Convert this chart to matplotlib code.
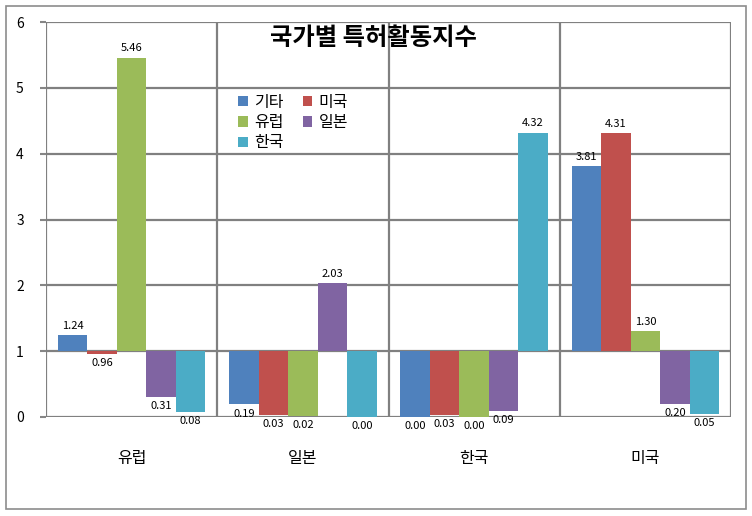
import numpy as np
import matplotlib.pyplot as plt
from matplotlib.patches import Rectangle

plt.rcParams['font.family'] = ['Noto Sans CJK KR', 'DejaVu Sans']

categories = ['유럽', '일본', '한국', '미국']
series_names = ['기타', '미국', '유럽', '일본', '한국']
colors = ['#4F81BD', '#C0504D', '#9BBB59', '#8064A2', '#4BACC6']

gita = [1.24, 0.19, 0.00, 3.81]
usa = [0.96, 0.03, 0.03, 4.31]
europe = [5.46, 0.02, 0.00, 1.30]
japan = [0.31, 2.03, 0.09, 0.20]
korea = [0.08, 0.00, 4.32, 0.05]
values = [gita, usa, europe, japan, korea]

baseline = 1.0
width = 0.172

fig = plt.figure(figsize=(7.52, 5.16), dpi=100)
ax = fig.add_axes([46 / 752, 99 / 516, 685 / 752, 395 / 516])

# outer chart frame
fig.patches.append(Rectangle((6 / 752, 7 / 516), 740 / 752, 503 / 516, transform=fig.transFigure,
                             fill=False, edgecolor='#8c8c8c', linewidth=1.2))

x = np.arange(len(categories))
bars = {}
for j, (name, vals, c) in enumerate(zip(series_names, values, colors)):
    heights = np.array(vals) - baseline
    b = ax.bar(x + (j - 2) * width, heights, width, bottom=baseline, color=c, label=name, zorder=3)
    ax.bar_label(b, labels=[f'{v:.2f}' for v in vals], padding=3, fontsize=8, zorder=4)
    bars[name] = b

ax.set_xlim(-0.5, 3.5)
ax.set_ylim(0, 6)
ax.set_yticks(range(7))
ax.set_xticks(x)
ax.set_xticklabels(categories, fontsize=11.5)
ax.tick_params(axis='x', length=0, pad=24)
ax.tick_params(axis='y', length=4, width=1.5, color='#868686', labelsize=10, pad=12)

# grid lines
for yv in range(7):
    ax.axhline(yv, color='#808080', linewidth=1.6, zorder=1)
for xv in np.arange(-0.5, 4, 1):
    ax.axvline(xv, color='#808080', linewidth=1.6, zorder=1)
for s in ax.spines.values():
    s.set_visible(False)

fig.text(0.496, 0.926, '국가별 특허활동지수', fontsize=17.5, fontweight='bold', ha='center', va='center')

order = ['기타', '유럽', '한국', '미국', '일본']
ax.legend([bars[n] for n in order], order, loc='upper left', bbox_to_anchor=(238 / 752, 1 - 94 / 516),
          bbox_transform=fig.transFigure, ncol=2, frameon=False, fontsize=11.5,
          handlelength=0.6, handleheight=0.6, handletextpad=0.4, columnspacing=1.2,
          labelspacing=0.2, borderpad=0, borderaxespad=0)

fig.savefig('out.png', dpi=100)
